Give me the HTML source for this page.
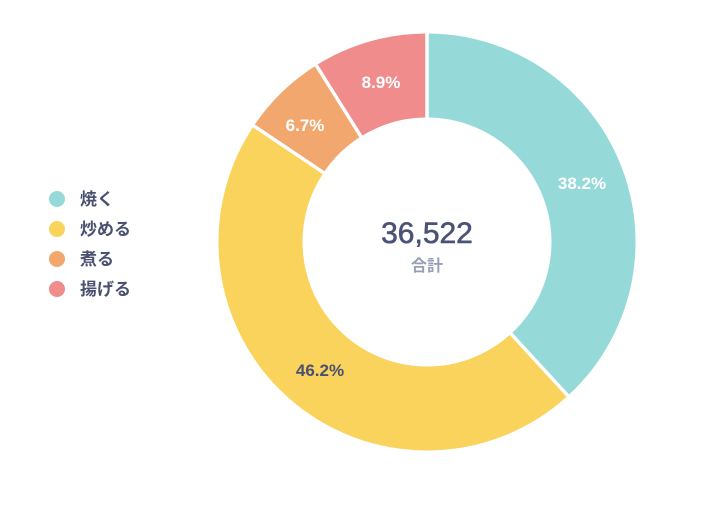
<!DOCTYPE html>
<html><head><meta charset="utf-8"><style>
html,body{margin:0;padding:0;background:#fff;}
body{width:720px;height:508px;overflow:hidden;}
text{font-family:"Liberation Sans","Noto Sans CJK JP",sans-serif;font-weight:bold;}
</style></head><body>
<svg width="720" height="508" viewBox="0 0 720 508" xmlns="http://www.w3.org/2000/svg">
<g transform="rotate(-90 427 242)" fill="none" stroke-width="84">
<circle cx="427" cy="242" r="166.5" stroke="#96d9d9" stroke-dasharray="399.63 1046.15" stroke-dashoffset="0"/>
<circle cx="427" cy="242" r="166.5" stroke="#f9d35c" stroke-dasharray="483.32 1046.15" stroke-dashoffset="-399.63"/>
<circle cx="427" cy="242" r="166.5" stroke="#f2a76e" stroke-dasharray="70.09 1046.15" stroke-dashoffset="-882.95"/>
<circle cx="427" cy="242" r="166.5" stroke="#f08c8c" stroke-dasharray="93.11 1046.15" stroke-dashoffset="-953.04"/>
</g>
<g stroke="#fff" stroke-width="3.5">
<line x1="427" y1="120" x2="427" y2="30"/>
<line x1="510.7" y1="333.5" x2="570" y2="398"/>
<line x1="324" y1="172.9" x2="251" y2="124"/>
<line x1="361.2" y1="136.9" x2="314.5" y2="62.5"/>
</g>
<g font-size="17" fill="#fff" text-anchor="middle">
<text x="582" y="189">38.2%</text>
<text x="320" y="376" fill="#4a5070">46.2%</text>
<text x="305" y="131">6.7%</text>
<text x="381" y="88">8.9%</text>
</g>
<text x="427" y="243" font-size="30" fill="#4a5373" stroke="#4a5373" stroke-width="0.6" text-anchor="middle" style="font-weight:normal">36,522</text>
<text x="427" y="271" font-size="16" fill="#979db2" text-anchor="middle">合計</text>
<g font-size="17" fill="#4a5070">
<circle cx="57" cy="199" r="8" fill="#96d9d9"/><text x="80" y="205">焼く</text>
<circle cx="57" cy="229" r="8" fill="#f9d35c"/><text x="80" y="235">炒める</text>
<circle cx="57" cy="259" r="8" fill="#f2a76e"/><text x="80" y="265">煮る</text>
<circle cx="57" cy="289" r="8" fill="#f08c8c"/><text x="80" y="295">揚げる</text>
</g>
</svg>
</body></html>
